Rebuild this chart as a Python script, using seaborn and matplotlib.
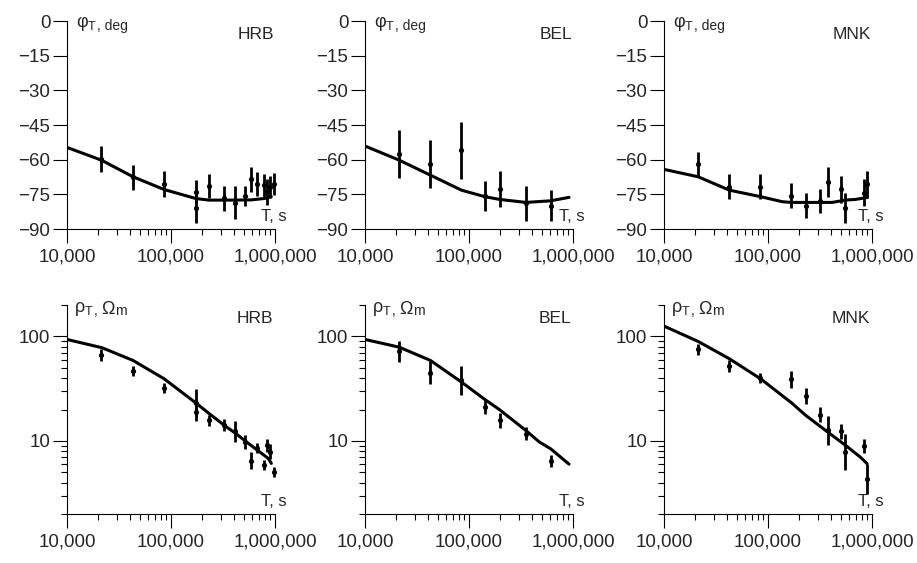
import numpy as np
import pandas as pd
import matplotlib
matplotlib.use("Agg")
import matplotlib.pyplot as plt
import seaborn as sns
from matplotlib.ticker import FixedLocator, FixedFormatter, LogLocator, NullFormatter

# ---------------- data ----------------
stations = ["HRB", "BEL", "MNK"]

# HRB observations
hrb_T = [21400, 43100, 85700, 172600, 172600, 231500, 323600, 416000, 519000,
         592000, 671000, 778000, 837000, 889000, 978000]
hrb_phi = [-59.9, -67.7, -70.6, -73.9, -81.1, -71.4, -76.8, -78.6, -75.7,
           -68.5, -70.6, -71.0, -73.9, -71.7, -70.6]
hrb_phi_err = [5.6, 5.5, 5.5, 5.2, 6.5, 5.3, 5.3, 7.2, 4.3, 5.3, 5.2, 5.0, 5.5, 4.8, 4.8]
hrb_rho = [66.8, 46.6, 32.1, 23.2, 18.9, 15.7, 14.3, 12.4, 9.8, 6.5, 8.6, 5.9, 9.1, 7.9, 5.06]
hrb_rho_err = [0.056, 0.048, 0.048, 0.13, 0.09, 0.05, 0.057, 0.10, 0.07, 0.08,
               0.05, 0.05, 0.06, 0.07, 0.05]  # decades
# HRB model
hrb_mphi_T = [1e4, 21400, 43100, 85700, 172600, 231500, 394000, 592000, 826000, 922000]
hrb_mphi = [-54.7, -60.2, -67.4, -72.9, -76.8, -77.5, -77.5, -77.4, -76.7, -76.0]
hrb_mrho_T = [1e4, 21700, 43100, 85700, 172600, 234000, 326000, 424000, 531000,
              662000, 862000, 922000]
hrb_mrho = [93.6, 78, 59, 39.4, 23.2, 18.2, 14.1, 11.7, 9.8, 8.3, 6.8, 6.1]

# BEL observations
bel_T = [21300, 42500, 84700, 141600, 197000, 352000, 611000]
bel_phi = [-57.7, -61.9, -55.9, -75.7, -72.7, -78.9, -79.9]
bel_phi_err = [10.4, 10.4, 12.3, 6.3, 7.6, 7.7, 6.7]
bel_rho = [72, 45, 38, 21.1, 15.7, 11.75, 6.4]
bel_rho_err = [0.10, 0.11, 0.14, 0.07, 0.07, 0.064, 0.056]
# BEL model
bel_mphi_T = [1e4, 21300, 42500, 84700, 141600, 197000, 352000, 611000, 916000]
bel_mphi = [-54.1, -60.2, -66.7, -73.2, -76.0, -77.2, -78.5, -77.8, -76.3]
bel_mrho_T = [1e4, 21300, 42500, 84700, 141600, 197000, 352000, 473000, 611000, 916000]
bel_mrho = [93.6, 79, 59, 36.6, 25, 19.9, 12.6, 9.8, 8.4, 6.0]

# MNK observations
mnk_T = [21300, 42500, 84700, 168000, 230000, 313000, 374000, 505000, 555000, 832000, 896000]
mnk_phi = [-61.9, -71.7, -71.7, -75.7, -79.9, -77.8, -69.6, -72.9, -80.8, -74.3, -70.6]
mnk_phi_err = [5.4, 5.5, 5.4, 5.4, 5.4, 5.2, 6.5, 5.8, 6.5, 5.8, 5.8]
mnk_rho = [75.2, 52.1, 40.0, 38.8, 26.9, 17.9, 12.6, 12.4, 7.85, 8.96, 4.36]
mnk_rho_err = [0.056, 0.056, 0.048, 0.08, 0.076, 0.073, 0.143, 0.07, 0.175, 0.07, 0.143]
# MNK model
mnk_mphi_T = [1e4, 21300, 42500, 84700, 137700, 168000, 414000, 555000, 693000, 896000]
mnk_mphi = [-64.2, -67.4, -73.2, -76.0, -78.2, -78.5, -78.5, -77.5, -77.2, -76.4]
mnk_mrho_T = [1e4, 21300, 42500, 84700, 168000, 230000, 374000, 555000, 773000, 896000]
mnk_mrho = [125.6, 89.6, 61.2, 39.4, 23.2, 17.6, 12.2, 9.1, 7.0, 6.07]

x_ticks = [1e4, 1e5, 1e6]
x_tick_labels = ["10,000", "100,000", "1,000,000"]
phi_ticks = [0, -15, -30, -45, -60, -75, -90]
phi_tick_labels = ["0", "\u221215", "\u221230", "\u221245", "\u221260", "\u221275", "\u221290"]
rho_ticks = [10, 100]
rho_tick_labels = ["10", "100"]

obs = {
    "HRB": (hrb_T, hrb_phi, hrb_phi_err, hrb_rho, hrb_rho_err),
    "BEL": (bel_T, bel_phi, bel_phi_err, bel_rho, bel_rho_err),
    "MNK": (mnk_T, mnk_phi, mnk_phi_err, mnk_rho, mnk_rho_err),
}
model = {
    "HRB": (hrb_mphi_T, hrb_mphi, hrb_mrho_T, hrb_mrho),
    "BEL": (bel_mphi_T, bel_mphi, bel_mrho_T, bel_mrho),
    "MNK": (mnk_mphi_T, mnk_mphi, mnk_mrho_T, mnk_mrho),
}

# ---------------- style ----------------
sns.set_style("ticks")
plt.rcParams["font.family"] = ["Liberation Sans", "DejaVu Sans"]
plt.rcParams["mathtext.fontset"] = "custom"
plt.rcParams["mathtext.rm"] = "Liberation Sans"
plt.rcParams["mathtext.it"] = "Liberation Sans:italic"
plt.rcParams["axes.unicode_minus"] = True

fig = plt.figure(figsize=(9.17, 5.63), dpi=100)
W, H = 917, 563
lefts = [67, 365, 664]
aw = 208
rows = {"phi": (21, 229), "rho": (305, 514)}

def mk_axes(left, top, bottom):
    return fig.add_axes([left / W, (H - bottom) / H, aw / W, (bottom - top) / H])

def style_common(ax):
    for s in ["top", "right"]:
        ax.spines[s].set_visible(False)
    for s in ["left", "bottom"]:
        ax.spines[s].set_linewidth(0.8)
        ax.spines[s].set_color("black")
    ax.set_xscale("log")
    ax.set_xlim(1e4, 1e6)
    ax.xaxis.set_major_locator(FixedLocator(x_ticks))
    ax.xaxis.set_major_formatter(FixedFormatter(x_tick_labels))
    ax.xaxis.set_minor_locator(LogLocator(base=10, subs=np.arange(2, 10)))
    ax.xaxis.set_minor_formatter(NullFormatter())
    ax.tick_params(axis="x", which="major", direction="out", length=10, width=0.8,
                   pad=4, labelsize=13.5, color="black")
    ax.tick_params(axis="x", which="minor", direction="out", length=4.3, width=0.8,
                   color="black")
    ax.tick_params(axis="y", which="major", direction="out", length=10, width=0.8,
                   pad=2, labelsize=13.5, color="black")
    ax.tick_params(axis="y", which="minor", direction="out", length=4.5, width=0.8,
                   color="black")
    ax.set_xlabel("")
    ax.set_ylabel("")
    ax.grid(False)
    ax.set_facecolor("white")

def add_label(ax, main, rest, x, y):
    t1 = ax.text(x, y, main, transform=ax.transAxes, fontsize=13, va="baseline", ha="left")
    prev = t1
    for txt, fs in rest:
        prev = ax.annotate(txt, xy=(1, 0), xycoords=prev, fontsize=fs, va="bottom", ha="left")

for i, st in enumerate(stations):
    T, phi, phi_err, rho, rho_err = obs[st]
    mphiT, mphi, mrhoT, mrho = model[st]
    df_obs = pd.DataFrame({"T": T, "phi": phi, "phi_err": phi_err, "rho": rho, "rho_err": rho_err})
    df_mphi = pd.DataFrame({"T": mphiT, "phi": mphi})
    df_mrho = pd.DataFrame({"T": mrhoT, "rho": mrho})

    # ---- phase ----
    ax = mk_axes(lefts[i], *rows["phi"])
    style_common(ax)
    sns.lineplot(data=df_mphi, x="T", y="phi", ax=ax, color="black", lw=2.2,
                 estimator=None, sort=False)
    ax.errorbar(df_obs["T"], df_obs["phi"], yerr=df_obs["phi_err"], fmt="none",
                ecolor="black", elinewidth=2.0, capsize=0, clip_on=False)
    sns.scatterplot(data=df_obs, x="T", y="phi", ax=ax, color="black", s=14,
                    marker="o", edgecolor="black", linewidth=0, clip_on=False)
    ax.set_ylim(-90, 0)
    ax.set_yticks(phi_ticks)
    ax.set_yticklabels(phi_tick_labels)
    ax.set_xlabel("")
    ax.set_ylabel("")
    add_label(ax, "φ$_\\mathregular{T}$", [(", deg", 10)], 0.043, 0.973)
    ax.text(0.995, 0.913, st, transform=ax.transAxes, fontsize=12.5, ha="right", va="baseline")
    ax.text(0.935, 0.038, "T, s", transform=ax.transAxes, fontsize=12, ha="left", va="baseline")

    # ---- apparent resistivity ----
    ax = mk_axes(lefts[i], *rows["rho"])
    style_common(ax)
    ax.set_yscale("log")
    sns.lineplot(data=df_mrho, x="T", y="rho", ax=ax, color="black", lw=2.2,
                 estimator=None, sort=False)
    r = df_obs["rho"].to_numpy()
    e = df_obs["rho_err"].to_numpy()
    lo = r - r / 10 ** e
    hi = r * 10 ** e - r
    ax.errorbar(df_obs["T"], r, yerr=[lo, hi], fmt="none", ecolor="black",
                elinewidth=2.0, capsize=0, clip_on=False)
    sns.scatterplot(data=df_obs, x="T", y="rho", ax=ax, color="black", s=14,
                    marker="o", edgecolor="black", linewidth=0, clip_on=False)
    ax.set_ylim(2, 200)
    ax.yaxis.set_major_locator(FixedLocator(rho_ticks))
    ax.yaxis.set_major_formatter(FixedFormatter(rho_tick_labels))
    ax.yaxis.set_minor_locator(LogLocator(base=10, subs=np.arange(2, 10)))
    ax.yaxis.set_minor_formatter(NullFormatter())
    ax.set_xlabel("")
    ax.set_ylabel("")
    add_label(ax, "ρ$_\\mathregular{T}$", [(", ", 10), ("Ω", 13), ("m", 10)], 0.035, 0.967)
    ax.text(0.99, 0.914, st, transform=ax.transAxes, fontsize=12.5, ha="right", va="baseline")
    ax.text(0.935, 0.038, "T, s", transform=ax.transAxes, fontsize=12, ha="left", va="baseline")

fig.savefig("out.png", dpi=100, facecolor="white")
